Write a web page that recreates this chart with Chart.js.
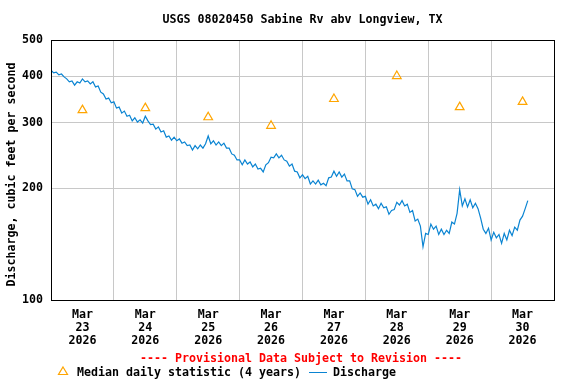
<!DOCTYPE html>
<html>
<head>
<meta charset="utf-8">
<script src="https://cdn.jsdelivr.net/npm/chart.js@4/dist/chart.umd.min.js"></script>
<style>
html,body{margin:0;padding:0;background:#fff;}
canvas{display:block;}
</style>
</head>
<body>
<canvas id="c" width="576" height="384"></canvas>
<script>
// ---- data ----
const chartTitle = 'USGS 08020450 Sabine Rv abv Longview, TX';
const yAxisTitle = 'Discharge, cubic feet per second';
const provisionalNote = '---- Provisional Data Subject to Revision ----';
const medianLabel = 'Median daily statistic (4 years)';
const dischargeLabel = 'Discharge';

// hourly discharge (cfs) starting Mar 23 2026 00:00
const dischargeCfs = [
  415,408,410,403,405,398,393,386,388,378,386,383,393,386,388,381,386,374,376,362,358,347,349,339,
  341,328,330,318,322,312,314,303,309,301,305,299,312,303,296,297,288,292,283,285,274,276,269,274,
  268,271,264,266,260,261,253,260,255,261,256,263,276,263,268,261,266,260,264,256,256,247,245,238,
  238,231,238,232,235,228,232,225,226,221,231,234,242,241,247,241,245,238,236,229,232,222,221,213,
  217,212,215,205,209,205,210,204,206,203,213,214,222,215,221,214,218,209,209,199,198,190,194,189,
  190,181,186,179,181,176,182,177,178,170,174,175,183,180,185,179,181,172,174,163,165,158,139,151,
  150,160,155,158,150,155,150,154,151,162,160,171,198,179,187,178,186,177,182,176,166,155,151,156,
  145,152,147,150,142,151,145,154,149,157,154,164,168,176,185
];
// median daily statistic, placed at noon of each day (hours from Mar 23 00:00)
const medianHours = [12, 36, 60, 84, 108, 132, 156, 180];
const medianCfs   = [324, 328, 310, 294, 347, 400, 330, 341];

// x tick labels (at noon of each day)
const tickMonths = ['Mar','Mar','Mar','Mar','Mar','Mar','Mar','Mar'];
const tickDays   = ['23','24','25','26','27','28','29','30'];
const tickYears  = ['2026','2026','2026','2026','2026','2026','2026','2026'];
const dayStartHours = [0, 24, 48, 72, 96, 120, 144, 168, 192];
const yTicks = [100, 200, 300, 400, 500];

// ---- chart ----
const FONT = '"DejaVu Sans Mono", "Liberation Mono", monospace';
const FSIZE = 11.63;
const BLUE = '#0a84d2';
const ORANGE = '#ffa500';
const GRID = '#c8c8c8';

const dischargePts = dischargeCfs.map((v, i) => ({x: i, y: v}));
const medianPts = medianCfs.map((v, i) => ({x: medianHours[i], y: v}));
const xTickValues = [];
dayStartHours.forEach((h, i) => { xTickValues.push(h); if (i < tickDays.length) xTickValues.push(h + 12); });

const decor = {
  id: 'decor',
  afterDraw(chart) {
    const c = chart.ctx, a = chart.chartArea;
    c.save();
    c.strokeStyle = '#000';
    c.lineWidth = 1;
    c.strokeRect(a.left + 0.5, a.top + 0.5, a.right - a.left, a.bottom - a.top);
    c.fillStyle = '#000';
    c.font = 'bold ' + FSIZE + 'px ' + FONT;
    c.textBaseline = 'middle';
    c.textAlign = 'center';
    c.fillText(chartTitle, (a.left + a.right) / 2, 19.5);
    c.save();
    c.translate(11.5, 174.5);
    c.rotate(-Math.PI / 2);
    c.fillText(yAxisTitle, 0, 0);
    c.restore();
    c.fillStyle = '#ff0000';
    c.fillText(provisionalNote, 301, 359);
    // legend
    c.textAlign = 'left';
    c.fillStyle = '#000';
    c.fillText(medianLabel, 77, 372.5);
    c.fillText(dischargeLabel, 333, 372.5);
    c.strokeStyle = ORANGE;
    c.lineWidth = 1.2;
    c.beginPath();
    c.moveTo(63, 367); c.lineTo(67.5, 374.5); c.lineTo(58.5, 374.5); c.closePath();
    c.stroke();
    c.strokeStyle = BLUE;
    c.lineWidth = 1;
    c.beginPath();
    c.moveTo(309, 372.5); c.lineTo(327, 372.5);
    c.stroke();
    c.restore();
  }
};

new Chart(document.getElementById('c'), {
  type: 'line',
  data: {
    datasets: [
      {
        label: medianLabel,
        data: medianPts,
        showLine: false,
        pointStyle: 'triangle',
        pointRadius: 5,
        pointBorderColor: ORANGE,
        pointBackgroundColor: 'rgba(0,0,0,0)',
        pointBorderWidth: 1.2,
        order: 0
      },
      {
        label: dischargeLabel,
        data: dischargePts,
        borderColor: BLUE,
        borderWidth: 1.2,
        pointRadius: 0,
        tension: 0,
        fill: false,
        order: 1
      }
    ]
  },
  options: {
    responsive: false,
    animation: false,
    devicePixelRatio: 1,
    layout: { padding: { left: 0, right: 22, top: 40, bottom: 0 } },
    plugins: {
      legend: { display: false },
      title: { display: false },
      tooltip: { enabled: false }
    },
    scales: {
      x: {
        type: 'linear',
        min: 0, max: 192,
        afterBuildTicks: s => { s.ticks = xTickValues.map(v => ({value: v})); },
        afterFit: s => { s.height = 84; },
        grid: {
          drawTicks: false,
          lineWidth: 1,
          color: ctx => (ctx.tick && dayStartHours.includes(ctx.tick.value) && ctx.tick.value !== 0 && ctx.tick.value !== 192) ? GRID : 'rgba(0,0,0,0)'
        },
        border: { display: false },
        ticks: {
          autoSkip: false,
          maxRotation: 0,
          minRotation: 0,
          padding: 8,
          color: '#000',
          font: { family: FONT, size: FSIZE, weight: 'bold', lineHeight: '13px' },
          callback: (v) => {
            const i = medianHours.indexOf(v);
            return i >= 0 ? [tickMonths[i], tickDays[i], tickYears[i]] : '';
          }
        }
      },
      y: {
        type: 'logarithmic',
        min: 100, max: 500,
        afterBuildTicks: s => { s.ticks = yTicks.map(v => ({value: v})); },
        afterFit: s => { s.width = 51; },
        grid: {
          drawTicks: false,
          lineWidth: 1,
          color: ctx => (ctx.tick && (ctx.tick.value === 100 || ctx.tick.value === 500)) ? 'rgba(0,0,0,0)' : GRID
        },
        border: { display: false },
        ticks: {
          padding: 8,
          color: '#000',
          font: { family: FONT, size: FSIZE, weight: 'bold' },
          callback: v => String(v)
        }
      }
    }
  },
  plugins: [decor]
});
</script>
</body>
</html>
